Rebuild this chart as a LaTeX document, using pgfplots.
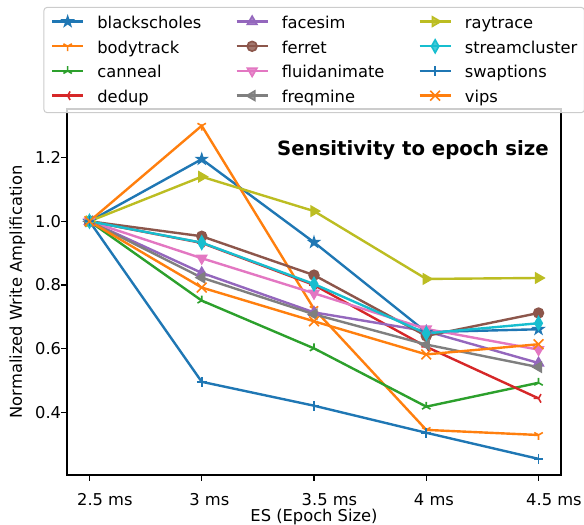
\documentclass[border=0pt]{standalone}
\usepackage{fontspec}
\setmainfont{DejaVu Sans}
\usepackage{pgfplots}
\pgfplotsset{compat=1.18}
\definecolor{C0}{HTML}{1F77B4}
\definecolor{C1}{HTML}{FF7F0E}
\definecolor{C2}{HTML}{2CA02C}
\definecolor{C3}{HTML}{D62728}
\definecolor{C4}{HTML}{9467BD}
\definecolor{C5}{HTML}{8C564B}
\definecolor{C6}{HTML}{E377C2}
\definecolor{C7}{HTML}{7F7F7F}
\definecolor{C8}{HTML}{BCBD22}
\definecolor{C9}{HTML}{17BECF}
\definecolor{lg}{HTML}{CCCCCC}
\pgfdeclareplotmark{fstar}{%
  \pgfpathmoveto{\pgfpointpolar{90}{\pgfplotmarksize}}%
  \pgfpathlineto{\pgfpointpolar{126}{0.382\pgfplotmarksize}}%
  \pgfpathlineto{\pgfpointpolar{162}{\pgfplotmarksize}}%
  \pgfpathlineto{\pgfpointpolar{198}{0.382\pgfplotmarksize}}%
  \pgfpathlineto{\pgfpointpolar{234}{\pgfplotmarksize}}%
  \pgfpathlineto{\pgfpointpolar{270}{0.382\pgfplotmarksize}}%
  \pgfpathlineto{\pgfpointpolar{306}{\pgfplotmarksize}}%
  \pgfpathlineto{\pgfpointpolar{342}{0.382\pgfplotmarksize}}%
  \pgfpathlineto{\pgfpointpolar{18}{\pgfplotmarksize}}%
  \pgfpathlineto{\pgfpointpolar{54}{0.382\pgfplotmarksize}}%
  \pgfpathclose\pgfusepathqfillstroke}
\newcommand{\fs}{\fontsize{16.3bp}{19bp}\selectfont}
\pgfplotsset{
  mk/.style={mark options={solid, line width=1.6bp, #1}},
  sBS/.style={C0, line width=2.4bp, mark=fstar, mark size=5bp, mk},
  sBT/.style={C1, line width=2.4bp, mark=Mercedes star flipped, mark size=4.9bp, mk},
  sCA/.style={C2, line width=2.4bp, mark=Mercedes star, mark size=4.9bp, mk},
  sDE/.style={C3, line width=2.4bp, mark=Mercedes star, mark size=4.9bp, mk={rotate=90}},
  sFA/.style={C4, line width=2.4bp, mark=triangle*, mark size=5.5bp, mk},
  sFE/.style={C5, line width=2.4bp, mark=*, mark size=4.9bp, mk},
  sFL/.style={C6, line width=2.4bp, mark=triangle*, mark size=5.5bp, mk={rotate=180}},
  sFR/.style={C7, line width=2.4bp, mark=triangle*, mark size=5.5bp, mk={rotate=90}},
  sRT/.style={C8, line width=2.4bp, mark=triangle*, mark size=5.5bp, mk={rotate=-90}},
  sSC/.style={C9, line width=2.4bp, mark=diamond*, mark size=6.5bp, mk={xscale=0.75}},
  sSW/.style={C0, line width=2.4bp, mark=+, mark size=4.9bp, mk},
  sVI/.style={C1, line width=2.4bp, mark=x, mark size=6.9bp, mk},
}
\begin{document}
\begin{tikzpicture}
\useasboundingbox (-67bp,-50bp) rectangle (517bp,475bp);
\begin{axis}[
  at={(0,0)}, anchor=south west,
  width=494bp, height=366bp, scale only axis,
  xmin=2.4, xmax=4.6, ymin=0.2034, ymax=1.3526,
  xtick={2.5,3,3.5,4,4.5},
  xticklabels={2.5 ms,3 ms,3.5 ms,4 ms,4.5 ms},
  ytick={0.4,0.6,0.8,1.0,1.2},
  xtick pos=left, ytick pos=left,
  tick align=outside, major tick length=5.7bp,
  every tick/.style={black, line width=1.3bp},
  axis line style={black, line width=1.3bp},
  tick label style={font=\fs},
  /pgf/number format/assume math mode=true,
  yticklabel style={/pgf/number format/fixed, /pgf/number format/precision=1, /pgf/number format/fixed zerofill, anchor=east, inner sep=0pt},
  xticklabel style={anchor=base west, inner sep=0pt, xshift=-12.5bp, yshift=-24.3bp},
  xlabel={ES (Epoch Size)},
  ylabel={Normalized Write Amplification},
  label style={font=\fs},
  xlabel style={at={(axis description cs:0.5,-0.1257)}, anchor=base, inner sep=0pt},
  ylabel style={at={(axis description cs:-0.0911,0.5)}, anchor=base, inner sep=0pt},
  legend columns=3,
  legend cell align=left,
  legend image code/.code={\draw[mark repeat=2,mark phase=2,#1] plot coordinates {(0bp,1.4bp) (15.5bp,1.4bp) (31bp,1.4bp)};},
  legend style={
    at={(axis description cs:-0.0476,1.2787)}, anchor=north west,
    draw=lg, line width=1bp, fill=white, fill opacity=0.8, draw opacity=1, text opacity=1,
    rounded corners=3bp, inner xsep=7bp, inner ysep=6bp,
    font=\fs,
    nodes={inner sep=0pt, text height=15.1bp, text depth=3.9bp},
    row sep=5.7bp,
    /tikz/every odd column/.append style={column sep=13bp},
    /tikz/every even column/.append style={column sep=34bp},
  },
]
\addplot[sBS, forget plot] coordinates {(2.5,1.0) (3,1.195) (3.5,0.934) (4,0.652) (4.5,0.661)};
\addplot[sBT, forget plot] coordinates {(2.5,1.0) (3,1.300) (3.5,0.725) (4,0.345) (4.5,0.329)};
\addplot[sCA, forget plot] coordinates {(2.5,1.0) (3,0.751) (3.5,0.601) (4,0.418) (4.5,0.493)};
\addplot[sDE, forget plot] coordinates {(2.5,1.0) (3,0.932) (3.5,0.800) (4,0.606) (4.5,0.444)};
\addplot[sFA, forget plot] coordinates {(2.5,1.0) (3,0.838) (3.5,0.714) (4,0.655) (4.5,0.555)};
\addplot[sFE, forget plot] coordinates {(2.5,1.0) (3,0.953) (3.5,0.831) (4,0.640) (4.5,0.712)};
\addplot[sFL, forget plot] coordinates {(2.5,1.0) (3,0.884) (3.5,0.774) (4,0.662) (4.5,0.597)};
\addplot[sFR, forget plot] coordinates {(2.5,1.0) (3,0.823) (3.5,0.708) (4,0.613) (4.5,0.542)};
\addplot[sRT, forget plot] coordinates {(2.5,1.0) (3,1.140) (3.5,1.032) (4,0.819) (4.5,0.822)};
\addplot[sSC, forget plot] coordinates {(2.5,1.0) (3,0.933) (3.5,0.803) (4,0.648) (4.5,0.680)};
\addplot[sSW, forget plot] coordinates {(2.5,1.0) (3,0.496) (3.5,0.421) (4,0.336) (4.5,0.254)};
\addplot[sVI, forget plot] coordinates {(2.5,1.0) (3,0.792) (3.5,0.686) (4,0.582) (4.5,0.614)};
\addlegendimage{sBS}\addlegendentry{blackscholes}
\addlegendimage{sFA}\addlegendentry{facesim}
\addlegendimage{sRT}\addlegendentry{raytrace}
\addlegendimage{sBT}\addlegendentry{bodytrack}
\addlegendimage{sFE}\addlegendentry{ferret}
\addlegendimage{sSC}\addlegendentry{streamcluster}
\addlegendimage{sCA}\addlegendentry{canneal}
\addlegendimage{sFL}\addlegendentry{fluidanimate}
\addlegendimage{sSW}\addlegendentry{swaptions}
\addlegendimage{sDE}\addlegendentry{dedup}
\addlegendimage{sFR}\addlegendentry{freqmine}
\addlegendimage{sVI}\addlegendentry{vips}
\node[anchor=base east, inner sep=0pt, font=\bfseries\fontsize{19.7bp}{23bp}\selectfont] at (rel axis cs:0.9757,0.874) {Sensitivity to epoch size};
\end{axis}
\end{tikzpicture}
\end{document}
